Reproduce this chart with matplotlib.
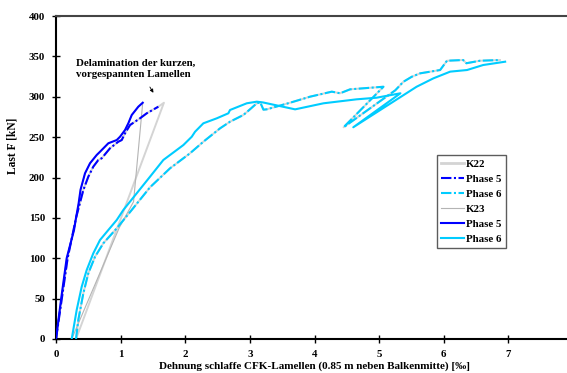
import matplotlib
matplotlib.use("Agg")
import matplotlib.pyplot as plt
from matplotlib.lines import Line2D

plt.rcParams['font.family'] = ['Liberation Serif', 'DejaVu Serif']
plt.rcParams['font.weight'] = 'bold'

# K23, phase 5 (solid blue)
k23_p5_x = [0, 0.08, 0.165, 0.279, 0.31, 0.35, 0.38, 0.449, 0.526, 0.630, 0.681,
            0.810, 0.940, 0.991, 1.068, 1.119, 1.172, 1.274, 1.342]
k23_p5_y = [0, 50, 100, 135, 150, 168, 185, 205.2, 217.6, 227.9, 231.9,
            242.4, 246.4, 250.5, 258.8, 267.1, 277.4, 287.7, 292.6]

# K22, phase 5 (dashed blue)
k22_p5_x = [0, 0.09, 0.18, 0.31, 0.423, 0.500, 0.577, 0.655, 0.707, 0.836, 0.964,
            1.017, 1.068, 1.146, 1.300, 1.404, 1.584]
k22_p5_y = [0, 50, 100, 150, 184.5, 201.0, 213.4, 221.7, 223.8, 236.2, 244.3,
            246.4, 254.7, 265.0, 273.3, 279.5, 287.7]

# K23, phase 6 (solid cyan)
k23_p6_x = [0.243, 0.320, 0.398, 0.475, 0.577, 0.681, 0.810, 0.940, 1.042, 1.455,
            1.661, 1.971, 2.101, 2.152, 2.280, 2.488, 2.667, 2.693, 2.952, 3.107,
            3.20, 3.70, 4.14, 4.65, 4.96, 5.33, 4.60, 5.58, 5.84,
            6.10, 6.36, 6.61, 6.95]
k23_p6_y = [0, 35.9, 64.8, 85.4, 106.1, 122.6, 135.0, 147.4, 159.8, 201.0,
            221.7, 240.2, 250.5, 256.7, 267.1, 273.3, 279.5, 283.6, 291.9, 293.9,
            293.0, 284.4, 291.9, 296.8, 298.8, 304.3, 262.2, 312.4, 322.8,
            331.1, 333.1, 339.3, 343.4]

# K22, phase 6 (dashed cyan)
k22_p6_x = [0.310, 0.345, 0.423, 0.500, 0.604, 0.732, 0.940, 1.172, 1.455, 1.765,
            2.074, 2.280, 2.539, 2.693, 2.899, 2.977, 3.107, 3.16, 3.21, 3.26,
            3.622, 3.932, 4.268, 4.396, 4.551, 5.067, 4.45, 5.25, 5.376, 5.506, 5.635,
            5.944, 6.05, 6.30, 6.35, 6.56, 6.87]
k22_p6_y = [0, 23.5, 56.6, 81.4, 101.9, 118.5, 137.1, 159.8, 187.9, 211.4,
            230.0, 244.3, 260.9, 269.1, 277.4, 282.7, 291.9, 293.0, 284.0, 284.4,
            292.6, 300.1, 306.3, 304.3, 309.2, 312.4, 262.2, 308.0, 318.6, 324.8, 329.0,
            333.1, 344.6, 345.5, 341.5, 344.6, 345.5]

# Unloading branches between the two phases
k22_unload_x = [1.584, 1.67, 0.96, 0.310]
k22_unload_y = [287.7, 292.6, 140.0, 0]
k23_unload_x = [1.342, 1.20, 0.98, 0.243]
k23_unload_y = [292.6, 170.0, 138.0, 0]

x_ticks = [0, 1, 2, 3, 4, 5, 6, 7]
y_ticks = [0, 50, 100, 150, 200, 250, 300, 350, 400]

BLUE = '#0000ff'
CYAN = '#00ccff'
GRAY22 = '#d4d4d4'
GRAY23 = '#b4b4b4'
dash = (0, (5, 1.2, 1, 1.2))
FS = 7.8

fig = plt.figure(figsize=(5.67, 3.73), dpi=100)
ax = fig.add_axes([56 / 567, 34 / 373, 517 / 567, 323 / 373])

# gray full traces underneath the coloured phases
ax.plot(k22_p5_x + k22_unload_x + k22_p6_x, k22_p5_y + k22_unload_y + k22_p6_y,
        color=GRAY22, lw=1.4, zorder=2)
ax.plot(k23_p5_x + k23_unload_x, k23_p5_y + k23_unload_y, color=GRAY23, lw=0.8, zorder=2)

ax.plot(k22_p5_x, k22_p5_y, color=BLUE, lw=1.5, ls=dash, zorder=3)
ax.plot(k22_p6_x, k22_p6_y, color=CYAN, lw=1.5, ls=dash, zorder=3)
ax.plot(k23_p5_x, k23_p5_y, color=BLUE, lw=1.5, zorder=4)
ax.plot(k23_p6_x, k23_p6_y, color=CYAN, lw=1.5, zorder=4)

ax.set_xlim(0, 8)
ax.set_ylim(0, 400)
ax.set_xticks(x_ticks)
ax.set_yticks(y_ticks)
ax.tick_params(direction='inout', length=6, width=1, labelsize=FS, pad=5)
for lbl in ax.get_xticklabels() + ax.get_yticklabels():
    lbl.set_fontweight('bold')
ax.spines['right'].set_visible(False)
ax.spines['left'].set_linewidth(1.5)
ax.spines['bottom'].set_linewidth(1.5)
ax.spines['top'].set_linewidth(1.5)
ax.spines['top'].set_color('#444444')

ax.set_ylabel('Last F [kN]', fontsize=8.3, fontweight='bold')
ax.yaxis.set_label_coords(-0.0735, 0.598)
ax.set_xlabel('Dehnung schlaffe CFK-Lamellen (0.85 m neben Balkenmitte) [‰]',
              fontsize=8, fontweight='bold', labelpad=2)

ax.annotate('Delamination der kurzen,\nvorgespannten Lamellen',
            xy=(1.53, 302), xytext=(0.31, 335), fontsize=FS, fontweight='bold',
            ha='left', va='center', linespacing=1.3)
ax.annotate('', xy=(1.53, 302), xytext=(1.43, 315),
            arrowprops=dict(arrowstyle='-|>', color='black', lw=0.6,
                            mutation_scale=5))

handles = [
    Line2D([], [], color=GRAY22, lw=2),
    Line2D([], [], color=BLUE, lw=1.5, ls=dash),
    Line2D([], [], color=CYAN, lw=1.5, ls=dash),
    Line2D([], [], color=GRAY23, lw=0.8),
    Line2D([], [], color=BLUE, lw=1.5),
    Line2D([], [], color=CYAN, lw=1.5),
]
labels = ['K22', 'Phase 5', 'Phase 6', 'K23', 'Phase 5', 'Phase 6']
leg = ax.legend(handles, labels, loc='upper left', bbox_to_anchor=(437 / 567, (373 - 155) / 373),
                bbox_transform=fig.transFigure, fontsize=FS, frameon=True, fancybox=False,
                edgecolor='#333333', handlelength=2.1, handletextpad=0.15,
                labelspacing=0.5, borderpad=0.4, borderaxespad=0)
leg.get_frame().set_linewidth(1.0)
for t in leg.get_texts():
    t.set_fontweight('bold')

fig.savefig('out.png', dpi=100)
